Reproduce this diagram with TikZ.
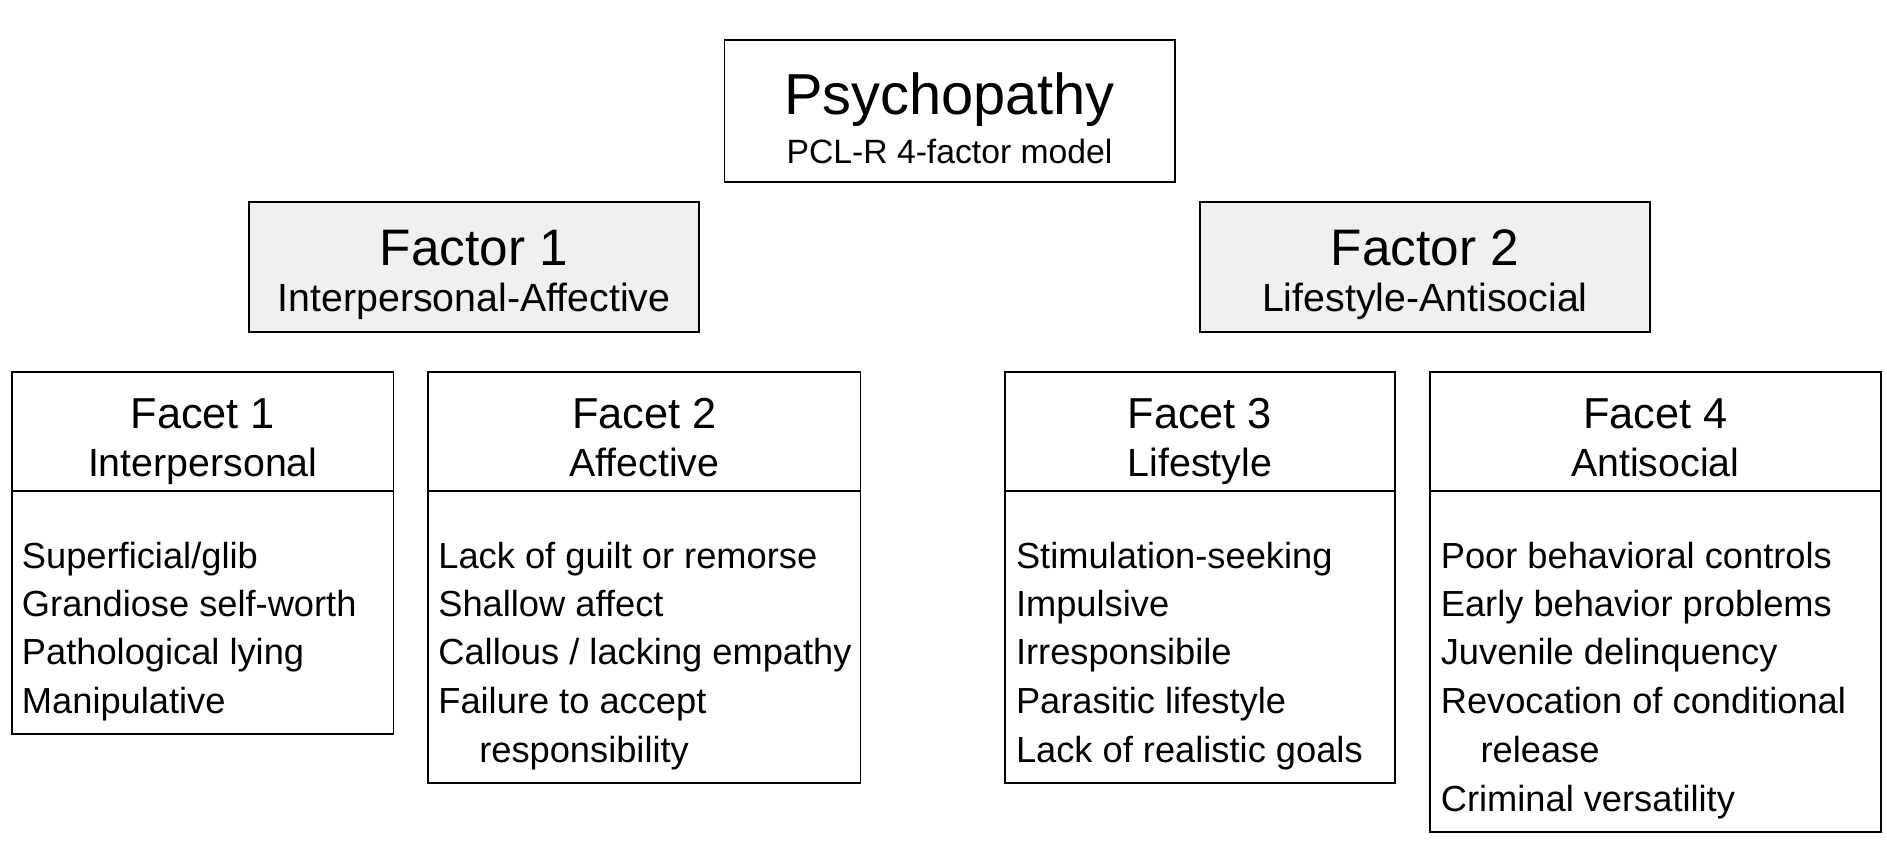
\documentclass[tikz,border=0pt]{standalone}
\usepackage{fontspec}
\setmainfont{Liberation Sans}
\begin{document}
\begin{tikzpicture}[x=0.75pt,y=-0.75pt,
 box/.style={draw,line width=1.2pt},
 fbox/.style={draw,line width=1.2pt,fill=gray!12},
 big/.style={font=\fontsize{36}{42}\selectfont,inner sep=0,anchor=base},
 mid/.style={font=\fontsize{32}{38}\selectfont,inner sep=0,anchor=base},
 fac/.style={font=\fontsize{27}{31}\selectfont,inner sep=0,anchor=base},
 sub/.style={font=\fontsize{21}{25}\selectfont,inner sep=0,anchor=base},
 sub2/.style={font=\fontsize{24.5}{28}\selectfont,inner sep=0,anchor=base},
 item/.style={font=\fontsize{22.6}{26}\selectfont,inner sep=0,anchor=base west}]
\useasboundingbox (0,0) rectangle (1568,700);
\draw[box] (602,33) rectangle (976,151);
\node[big] (p) at (789,95) {Psychopathy};
\node[sub] (ps) at (789,136) {PCL-R 4-factor model};
\draw[fbox] (207,168) rectangle (581,276);
\node[mid] (f1) at (394,221) {Factor 1};
\node[sub2] (f1s) at (394,259) {Interpersonal-Affective};
\draw[fbox] (997,168) rectangle (1371,276);
\node[mid] (f2) at (1184,221) {Factor 2};
\node[sub2] (f2s) at (1184,259) {Lifestyle-Antisocial};
% facets
\foreach \l/\r/\b/\t/\s in {10/327/610/Facet 1/Interpersonal,356/715/651/Facet 2/Affective,835/1159/651/Facet 3/Lifestyle,1188/1563/691/Facet 4/Antisocial}{
 \draw[box] (\l,309) rectangle (\r,\b);
 \draw[box] (\l,408) -- (\r,408);
 \node[fac] at ({(\l+\r)/2},356) {\t};
 \node[sub2] at ({(\l+\r)/2},396) {\s};
}
\node[item] (a1) at (18,472) {Superficial/glib};
\node[item] (a2) at (18,512) {Grandiose self-worth};
\node[item] (a3) at (18,552) {Pathological lying};
\node[item] (a4) at (18,593) {Manipulative};
\node[item] (b1) at (364,472) {Lack of guilt or remorse};
\node[item] (b2) at (364,512) {Shallow affect};
\node[item] (b3) at (364,552) {Callous / lacking empathy};
\node[item] (b4) at (364,593) {Failure to accept};
\node[item] (b5) at (398,634) {responsibility};
\node[item] (c1) at (844,472) {Stimulation-seeking};
\node[item] (c2) at (844,512) {Impulsive};
\node[item] (c3) at (844,552) {Irresponsibile};
\node[item] (c4) at (844,593) {Parasitic lifestyle};
\node[item] (c5) at (844,634) {Lack of realistic goals};
\node[item] (d1) at (1197,472) {Poor behavioral controls};
\node[item] (d2) at (1197,512) {Early behavior problems};
\node[item] (d3) at (1197,552) {Juvenile delinquency};
\node[item] (d4) at (1197,593) {Revocation of conditional};
\node[item] (d5) at (1230,634) {release};
\node[item] (d6) at (1197,674) {Criminal versatility};
\end{tikzpicture}
\end{document}
